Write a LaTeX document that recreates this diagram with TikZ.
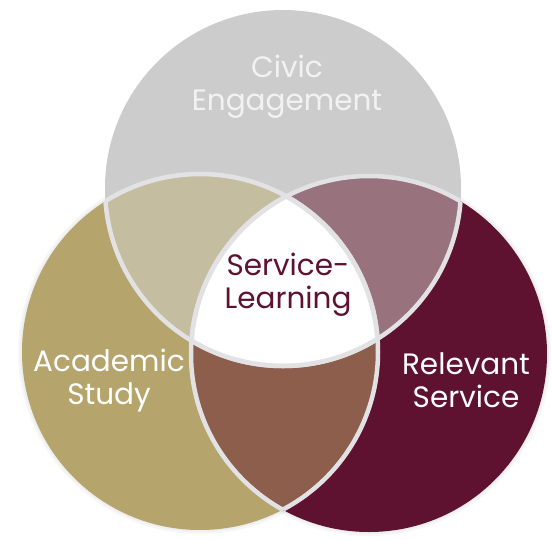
\documentclass[tikz,border=0pt]{standalone}
\usepackage{fontspec}
\setmainfont{Poppins}
\usepackage{tikz}
\usetikzlibrary{positioning}
\definecolor{civicgray}{RGB}{204,204,204}
\definecolor{acadgold}{RGB}{181,164,108}
\definecolor{servmaroon}{RGB}{95,18,48}
\definecolor{civacad}{RGB}{197,189,160}
\definecolor{civserv}{RGB}{152,114,124}
\definecolor{acadserv}{RGB}{140,94,75}
\definecolor{rimgray}{RGB}{226,226,229}
\definecolor{civictext}{RGB}{242,242,242}

\begin{document}
\begin{tikzpicture}[x=1pt,y=-1pt,
  rim/.style={draw=rimgray,line width=4.5pt},
  lbl/.style={align=center,font=\fontsize{29.5}{33}\selectfont,text=white}]
  \useasboundingbox (0,0) rectangle (552,539);
  \coordinate (civ) at (283,188);
  \coordinate (acad) at (200,352);
  \coordinate (serv) at (369,354);
  % soft shadow under the two lower circles
  \foreach \k in {0,...,5} {
    \fill[black,opacity=0.03,shift={(-3,6)}] (acad) circle ({172+2*\k});
    \fill[black,opacity=0.03,shift={(-3,6)}] (serv) circle ({172+2*\k});
  }
  % base circles
  \fill[civicgray] (civ) circle (178);
  \fill[acadgold] (acad) circle (178);
  \fill[servmaroon] (serv) circle (178);
  % pairwise overlaps
  \begin{scope}
    \clip (civ) circle (178);
    \fill[civacad] (acad) circle (178);
    \fill[civserv] (serv) circle (178);
  \end{scope}
  \begin{scope}
    \clip (acad) circle (178);
    \fill[acadserv] (serv) circle (178);
  \end{scope}
  % centre
  \begin{scope}
    \clip (civ) circle (178);
    \clip (acad) circle (178);
    \fill[white] (serv) circle (178);
  \end{scope}
  % rims inside the other circles
  \foreach \a/\b in {civ/acad,acad/civ,civ/serv,serv/civ,acad/serv,serv/acad} {
    \begin{scope}
      \clip (\b) circle (178);
      \draw[rim] (\a) circle (178);
    \end{scope}
  }
  \node[lbl,text=civictext] (civic) at (287,87) {Civic\\Engagement};
  \node[lbl] (study) at (109,381) {Academic\\Study};
  \node[lbl] (relevant) at (466,380) {Relevant\\Service};
  \node[lbl,text=servmaroon] (sl) at (288,285) {Service-\\Learning};
\end{tikzpicture}
\end{document}
